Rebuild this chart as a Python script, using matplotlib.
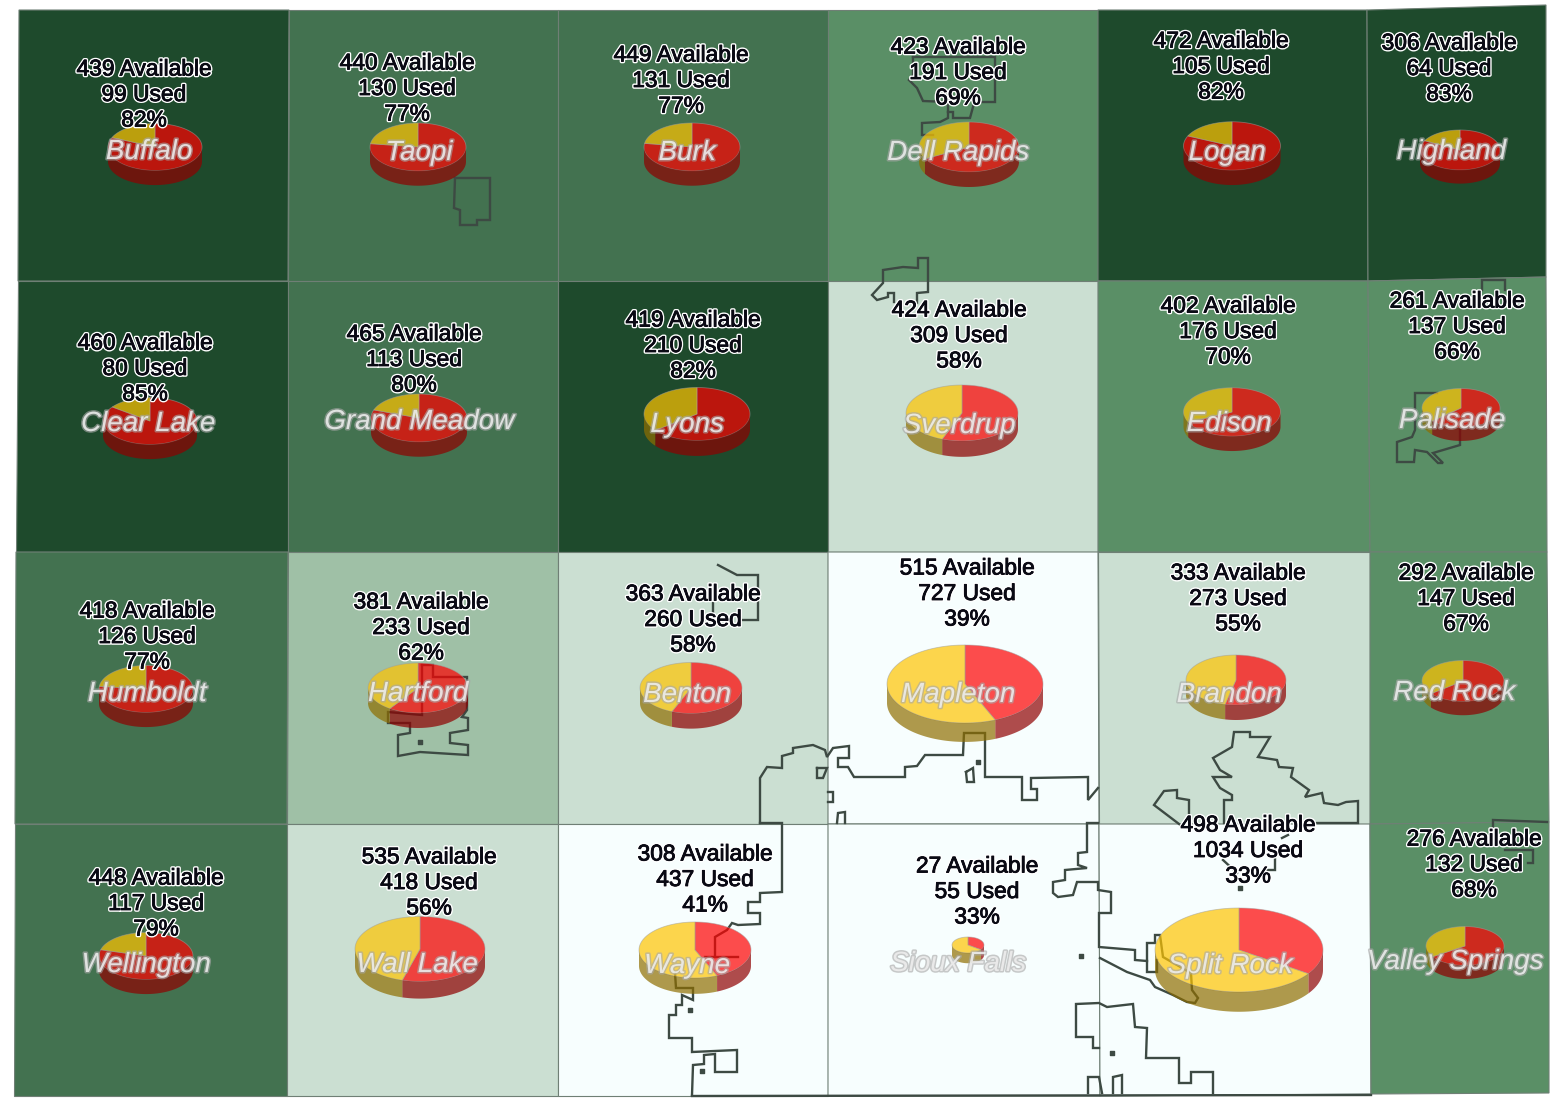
"""Grid of townships with available/used pies, map-style layout in pixel coords."""

import matplotlib

matplotlib.use("Agg")
import matplotlib.patheffects as pe
import matplotlib.pyplot as plt
import numpy as np

plt.rcParams["font.family"] = ["Liberation Sans", "DejaVu Sans"]

names = ["Buffalo", "Taopi", "Burk", "Dell Rapids", "Logan", "Highland",
         "Clear Lake", "Grand Meadow", "Lyons", "Sverdrup", "Edison", "Palisade",
         "Humboldt", "Hartford", "Benton", "Mapleton", "Brandon", "Red Rock",
         "Wellington", "Wall Lake", "Wayne", "Sioux Falls", "Split Rock", "Valley Springs"]
available = [439, 440, 449, 423, 472, 306,
             460, 465, 419, 424, 402, 261,
             418, 381, 363, 515, 333, 292,
             448, 535, 308, 27, 498, 276]
used = [99, 130, 131, 191, 105, 64,
        80, 113, 210, 309, 176, 137,
        126, 233, 260, 727, 273, 147,
        117, 418, 437, 55, 1034, 132]
percent = [82, 77, 77, 69, 82, 83,
           85, 80, 82, 58, 70, 66,
           77, 62, 58, 39, 55, 67,
           79, 56, 41, 33, 33, 68]
# shade class of each cell: 0 darkest .. 5 almost white
shade = [0, 1, 1, 2, 0, 0,
         0, 1, 0, 4, 2, 2,
         1, 3, 4, 5, 4, 2,
         1, 4, 5, 5, 5, 2]

# layout
pie_x = [155, 418, 692, 969, 1232, 1460,
         150, 419, 697, 962, 1232, 1461,
         146, 418, 691, 965, 1236, 1463,
         146, 420, 695, 968, 1239, 1465]
pie_y = [147, 147, 147, 147, 146, 150,
         421, 418, 414, 413, 412, 408,
         689, 688, 688, 684, 680, 681,
         956, 949, 950, 945, 950, 946]
pie_r = [47, 48, 48, 50, 48.5, 40,
         47, 48, 53, 56, 48.5, 39,
         47, 50, 51, 78, 50, 41,
         47, 65, 56, 16, 84, 39]
label_x = [144, 407, 681, 958, 1221, 1449,
           145, 414, 693, 959, 1228, 1457,
           147, 421, 693, 967, 1238, 1466,
           156, 429, 705, 977, 1248, 1474]
label_y = [69, 63, 55, 47, 41, 43,
           343, 334, 320, 310, 306, 301,
           611, 602, 594, 568, 573, 573,
           878, 857, 854, 866, 825, 839]
name_x = [149, 419, 687, 958, 1227, 1451,
          148, 419, 687, 959, 1229, 1452,
          147, 418, 687, 958, 1229, 1454,
          146, 417, 687, 958, 1230, 1455]
name_y = [152, 153, 153, 153, 153, 152,
          424, 422, 425, 426, 424, 421,
          694, 694, 695, 695, 695, 693,
          965, 965, 966, 964, 966, 962]

shade_colors = ["#1e4a2c", "#437250", "#5a8f66", "#9fc0a6", "#cbdfd2", "#f7fefe"]

grid_x = [[19, 289, 558, 828, 1098, 1367, 1546],
          [18, 288, 558, 828, 1098, 1368, 1546],
          [16, 288, 558, 828, 1098, 1370, 1547],
          [15, 287, 558, 828, 1099, 1370, 1549],
          [14, 287, 558, 828, 1100, 1371, 1549]]
grid_y = [[10, 10, 10, 10, 10, 10, 5],
          [281, 281, 281, 281, 281, 281, 277],
          [552, 552, 552, 552, 552, 552, 552],
          [824, 824, 824, 824, 824, 824, 822],
          [1096, 1096, 1096, 1096, 1096, 1094, 1093]]

# town limits, traced
outlines = [
    [(455, 178), (490, 178), (490, 220), (477, 220), (477, 225), (460, 225), (460, 210), (454, 208), (455, 178)],
    [(913, 57), (995, 57), (995, 102), (974, 102), (973, 107), (970, 118), (953, 118), (953, 112), (948, 112),
     (948, 118), (940, 122), (922, 123), (922, 135), (933, 135)],
    [(913, 57), (913, 75), (909, 80), (917, 88), (923, 101), (948, 102), (948, 112)],
    [(917, 303), (917, 293), (928, 292), (928, 258), (918, 258), (918, 268), (903, 267), (883, 270), (883, 283),
     (872, 295), (877, 300), (888, 297), (888, 293), (894, 293), (894, 302)],
    [(1482, 290), (1482, 280), (1505, 280), (1505, 290)],
    [(1437, 393), (1415, 393), (1415, 430), (1412, 437), (1397, 442), (1397, 462), (1414, 462), (1415, 450),
     (1427, 452), (1438, 463), (1443, 463), (1433, 453), (1460, 445), (1460, 430)],
    [(422, 665), (433, 665), (433, 677), (467, 677), (467, 710), (462, 717), (468, 718), (468, 730), (450, 733),
     (450, 743), (468, 745), (468, 755), (420, 752), (398, 756), (398, 735), (410, 733), (410, 723), (388, 723),
     (388, 712), (422, 715), (422, 665)],
    [(718, 565), (737, 575), (758, 575), (758, 620), (742, 620)],
    [(713, 603), (713, 615), (722, 618)],
    [(760, 823), (760, 778), (767, 767), (782, 768), (782, 756), (793, 753), (793, 748), (813, 745), (825, 750),
     (827, 757), (833, 748), (849, 746), (849, 758), (838, 758), (838, 767), (848, 767), (854, 777), (905, 777),
     (905, 767), (917, 766), (925, 755), (963, 755), (964, 733), (985, 733), (985, 777), (1022, 777), (1022, 800),
     (1037, 800), (1037, 789), (1031, 789), (1031, 778), (1088, 777), (1088, 800), (1098, 788)],
    [(1098, 823), (1087, 823), (1087, 852), (1078, 853), (1078, 865), (1087, 868), (1065, 870), (1065, 880),
     (1053, 882), (1053, 893), (1058, 897), (1073, 895), (1077, 882), (1098, 882), (1098, 890), (1111, 892),
     (1111, 913), (1099, 913), (1099, 947), (1135, 950), (1135, 960), (1147, 961), (1147, 943), (1155, 943),
     (1155, 935), (1160, 935), (1163, 957), (1191, 973), (1192, 990), (1198, 998), (1195, 1003), (1187, 1002),
     (1173, 995), (1155, 987), (1150, 980), (1127, 972), (1100, 958)],
    [(1147, 961), (1147, 972), (1157, 972), (1157, 960)],
    [(1099, 1048), (1093, 1048), (1093, 1037), (1076, 1037), (1076, 1004), (1099, 1003), (1107, 1007), (1133, 1004),
     (1135, 1027), (1147, 1028), (1146, 1058), (1179, 1058), (1179, 1083), (1191, 1083), (1191, 1072), (1213, 1072),
     (1213, 1093)],
    [(1088, 1093), (1088, 1077), (1099, 1077), (1102, 1093)],
    [(1113, 1093), (1113, 1077), (1122, 1075), (1122, 1093)],
    [(1183, 827), (1154, 805), (1164, 791), (1177, 790), (1177, 798), (1189, 800), (1189, 823)],
    [(1224, 823), (1224, 800), (1232, 800), (1232, 795), (1220, 788), (1213, 777), (1232, 777), (1220, 770),
     (1213, 758), (1232, 747), (1234, 732), (1250, 732), (1250, 737), (1270, 737), (1258, 757), (1277, 760),
     (1279, 767), (1293, 768), (1291, 777), (1309, 790), (1305, 797), (1322, 793), (1324, 803), (1338, 805),
     (1346, 802), (1358, 801), (1358, 823), (1315, 823)],
    [(1223, 860), (1237, 873)],
    [(1275, 858), (1275, 870), (1267, 870)],
    [(1288, 835), (1282, 838)],
    [(760, 823), (782, 823), (782, 892), (760, 893), (760, 902), (748, 902), (748, 913), (760, 913), (760, 924),
     (738, 925), (732, 923), (727, 930), (715, 937), (715, 957), (705, 957)],
    [(715, 957), (738, 957)],
    [(675, 973), (676, 988), (693, 988), (693, 1000), (682, 995), (682, 1005), (676, 1005), (676, 1015), (669, 1015),
     (669, 1038), (692, 1038), (692, 1052), (737, 1050), (737, 1072), (715, 1072), (715, 1054), (704, 1055),
     (704, 1064), (693, 1065), (692, 1095)],
    [(817, 768), (827, 768), (823, 778), (817, 778), (817, 768)],
    [(828, 792), (833, 792), (833, 802), (828, 802)],
    [(837, 823), (838, 813), (845, 812), (845, 823)],
    [(966, 772), (973, 768), (974, 782), (967, 782), (966, 772)],
    [(1493, 835), (1493, 820), (1547, 822)],
    [(1505, 850), (1533, 850), (1533, 863), (1528, 863)],
    [(692, 1096), (1371, 1095)],
]
dots = [(420, 742), (690, 1010), (702, 1071), (978, 762), (1081, 956), (1240, 888), (1112, 1053)]

fig = plt.figure(figsize=(15.58, 11.01), dpi=100)
ax = fig.add_axes([0, 0, 1, 1])
ax.set_xlim(0, 1558)
ax.set_ylim(1101, 0)
ax.axis("off")

for i, s in enumerate(shade):
    r, c = i // 6, i % 6
    xs = [grid_x[r][c], grid_x[r][c + 1], grid_x[r + 1][c + 1], grid_x[r + 1][c]]
    ys = [grid_y[r][c], grid_y[r][c + 1], grid_y[r + 1][c + 1], grid_y[r + 1][c]]
    ax.fill(xs, ys, facecolor=shade_colors[s], edgecolor="#6f7f75", lw=0.8, zorder=1)

for line in outlines:
    xs, ys = zip(*line)
    ax.plot(xs, ys, color="#3d4a43", lw=1.7, solid_joinstyle="miter", zorder=2)
ax.scatter(*zip(*dots), s=7, color="#3d4a43", marker="s", zorder=2)


def skew(t):
    # the original's 3d projection pulls front slice edges toward 6 o'clock
    if 90 < t < 270:
        return t + 9 * np.sin(np.radians(2 * (t - 90)))
    return t


def draw_pie(cx, cy, r, t1, t2, top, side):
    # t runs clockwise from 12 o'clock, degrees
    ry, depth = r * 0.5, 8 + 0.14 * r
    t = np.radians(np.linspace(t1, t2, 80))
    xs = np.r_[cx, cx + r * np.sin(t)]
    ys = np.r_[cy, cy - ry * np.cos(t)]
    ax.fill(xs, ys, facecolor=matplotlib.colors.to_rgba(top, 0.7),
            edgecolor=(0.62, 0.62, 0.62, 0.55), lw=0.6, zorder=3)
    a, b = max(t1, 90), min(t2, 270)
    if b > a:
        t = np.radians(np.linspace(a, b, 60))
        ex, ey = cx + r * np.sin(t), cy - ry * np.cos(t)
        ax.fill(np.r_[ex, ex[::-1]], np.r_[ey, ey[::-1] + depth],
                color=side, alpha=0.7, lw=0, zorder=3)


for i, name in enumerate(names):
    split = skew(360 * available[i] / (available[i] + used[i]))
    draw_pie(pie_x[i], pie_y[i], pie_r[i], 0, split, "#ff0000", "#8f0000")
    draw_pie(pie_x[i], pie_y[i], pie_r[i], split, 360, "#ffc400", "#8f6e00")

    lines = [f"{available[i]} Available", f"{used[i]} Used", f"{percent[i]}%"]
    for k, txt in enumerate(lines):
        ax.text(label_x[i], label_y[i] + 25.5 * k, txt, fontsize=16.4, color="#0a0a14",
                ha="center", va="center", zorder=5,
                path_effects=[pe.withStroke(linewidth=2.6, foreground="white"),
                              pe.withStroke(linewidth=0.6, foreground="#0a0a14")])
    ax.text(name_x[i], name_y[i], name, fontsize=20, style="italic", color="white",
            alpha=0.62, ha="center", va="center", zorder=4,
            path_effects=[pe.withStroke(linewidth=2.2, foreground="#a8a8a8")])

fig.savefig("out.png", dpi=100)
